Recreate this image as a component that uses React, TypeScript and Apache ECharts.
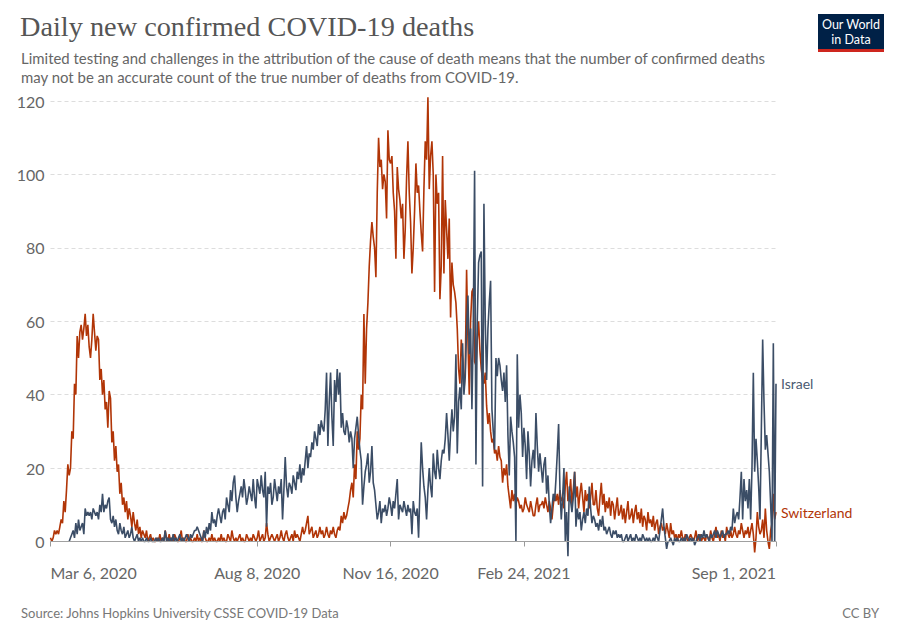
import { useEffect, useRef } from "react";
import * as echarts from "echarts";

// ---- Data ----
const switzerlandStart = "2020-03-06";
const israelStart = "2020-03-20";
const xTickDates = ["2020-03-06", "2020-08-08", "2020-11-16", "2021-02-24", "2021-09-01"];
const xTickLabels = ["Mar 6, 2020", "Aug 8, 2020", "Nov 16, 2020", "Feb 24, 2021", "Sep 1, 2021"];
const yTicks = [0, 20, 40, 60, 80, 100, 120];

const switzerland = [
  1, 0, 1, 3, 2, 3, 2, 4, 6, 5,
  11, 8, 14, 21, 18, 20, 30, 28, 43, 40,
  56, 50, 57, 59, 55, 58, 62, 56, 59, 53,
  50, 55, 62, 57, 52, 56, 55, 44, 47, 40,
  44, 36, 38, 31, 41, 39, 27, 30, 22, 26,
  19, 21, 13, 16, 10, 12, 8, 11, 6, 9,
  7, 4, 8, 5, 3, 6, 2, 4, 1, 3,
  2, 1, 3, 0, 1, 2, 0, 1, 0, 0,
  1, 0, 2, 0, 1, 0, 3, 1, 0, 2,
  0, 1, 0, 2, 1, 0, 0, 1, 3, 0,
  1, 0, 0, 2, 0, 1, 0, 0, 1, 0,
  2, 0, 1, 0, 0, 3, 1, 0, 0, 1,
  0, 2, 0, 1, 0, 0, 1, 0, 2, 0,
  1, 0, 0, 2, 1, 0, 3, 1, 0, 1,
  0, 1, 2, 0, 1, 0, 0, 2, 1, 0,
  1, 0, 2, 1, 0, 1, 3, 0, 1, 2,
  0, 1, 5, 2, 0, 1, 2, 1, 0, 1,
  2, 0, 1, 3, 1, 0, 2, 3, 1, 0,
  1, 2, 0, 3, 1, 2, 1, 0, 2, 4,
  2, 3, 5, 7, 2, 3, 4, 1, 2, 3,
  1, 2, 4, 2, 3, 1, 2, 4, 2, 1,
  3, 2, 4, 2, 1, 3, 4, 3, 7, 5,
  8, 6, 7, 9, 11, 14, 16, 12, 21, 17,
  30, 25, 28, 40, 36, 62, 43, 58, 65, 75,
  82, 87, 83, 80, 72, 95, 110, 102, 104, 96,
  100, 98, 88, 112, 104, 103, 105, 95, 90, 77,
  102, 96, 93, 88, 92, 77, 85, 99, 109, 95,
  87, 73, 80, 90, 103, 95, 97, 90, 84, 79,
  96, 109, 104, 121, 96, 105, 109, 100, 68, 100,
  92, 95, 66, 75, 105, 73, 93, 85, 77, 88,
  61, 76, 70, 68, 65, 58, 47, 43, 55, 50,
  41, 47, 74, 55, 40, 60, 68, 69, 49, 48,
  55, 60, 52, 47, 44, 43, 46, 37, 32, 35,
  30, 27, 28, 24, 25, 22, 26, 23, 22, 16,
  20, 18, 21, 15, 12, 9, 14, 11, 13, 10,
  12, 11, 9, 10, 8, 9, 12, 10, 9, 8,
  11, 9, 7, 7, 10, 12, 8, 10, 10, 11,
  9, 12, 10, 8, 11, 9, 6, 10, 13, 11,
  13, 10, 14, 11, 12, 9, 15, 19, 11, 13,
  17, 10, 14, 19, 12, 15, 9, 13, 16, 12,
  8, 14, 11, 13, 9, 12, 16, 10, 10, 14,
  9, 7, 12, 16, 10, 13, 8, 11, 9, 12,
  7, 11, 10, 6, 9, 12, 7, 8, 10, 6,
  9, 5, 8, 11, 6, 7, 9, 5, 8, 10,
  6, 8, 5, 9, 4, 7, 6, 3, 8, 5,
  6, 4, 7, 3, 5, 6, 2, 4, 5, 3,
  4, 2, 5, 3, 1, 5, 2, 3, 1, 2,
  0, 2, 1, 3, 1, 0, 2, 1, 0, 1,
  2, 1, 0, 1, 3, 0, 1, 2, 0, 1,
  1, 0, 2, 1, 0, 3, 1, 0, 2, 4,
  1, 2, 0, 3, 1, 2, 0, 4, 2, 1,
  3, 1, 2, 4, 2, 1, 3, 2, 5, 3,
  1, 3, 2, 4, 1, 3, 5, 2, -3, 1,
  8, 4, 2, 3, 6, 1, 9, 3, 0, -2,
  3, 5, 13, 6, 8,
];

const israel = [
  0, 1, 2, 3, 1, 5,
  2, 6, 3, 4, 5, 2, 9, 7, 8, 7,
  8, 6, 9, 8, 7, 8, 6, 10, 8, 13,
  8, 10, 9, 11, 12, 6, 5, 7, 4, 6,
  3, 2, 5, 3, 2, 4, 1, 2, 3, 1,
  2, 4, 1, 0, 1, 2, 0, 1, 0, 1,
  0, 0, 1, 0, 0, 1, 0, 0, 0, 1,
  0, 1, 0, 0, 1, 0, 3, 0, 1, 0,
  1, 0, 2, 0, 1, 0, 1, 2, 0, 1,
  0, 1, 2, 1, 0, 2, 1, 2, 3, 3,
  4, 3, 2, 1, 0, 3, 1, 4, 2, 5,
  3, 8, 5, 6, 4, 7, 9, 7, 5, 8,
  9, 6, 12, 10, 8, 14, 11, 16, 18, 12,
  8, 11, 13, 15, 12, 17, 14, 10, 12, 15,
  13, 11, 17, 12, 9, 17, 15, 13, 18, 14,
  12, 19, 4, 15, 13, 16, 10, 12, 17, 14,
  11, 15, 13, 17, 6, 14, 23, 15, 12, 16,
  15, 13, 18, 16, 14, 19, 17, 21, 16, 20,
  18, 22, 26, 20, 24, 23, 27, 25, 30, 28,
  26, 32, 29, 33, 31, 30, 36, 46, 26, 38,
  46, 34, 26, 44, 38, 47, 40, 46, 31, 35,
  30, 29, 33, 31, 27, 30, 28, 20, 28, 31,
  34, 29, 25, 22, 10, 15, 19, 21, 24, 16,
  19, 26, 16, 14, 10, 6, 8, 11, 5, 9,
  8, 10, 7, 9, 12, 10, 7, 11, 9, 13,
  17, 6, 10, 9, 8, 11, 9, 7, 10, 8,
  9, 2, 11, 8, 7, 9, 1, 14, 27, 20,
  15, 12, 6, 14, 20, 15, 12, 24, 19, 17,
  25, 20, 17, 22, 25, 24, 28, 35, 29, 22,
  30, 36, 30, 34, 51, 24, 38, 42, 36, 54,
  40, 45, 58, 67, 51, 58, 36, 58, 101, 21,
  60, 76, 78, 79, 15, 92, 60, 44, 58, 65,
  71, 36, 30, 25, 50, 45, 50, 48, 44, 41,
  46, 38, 48, 29, 18, 34, 30, 27, 23, 0,
  51, 31, 40, 35, 23, 31, 26, 17, 30, 24,
  15, 22, 25, 20, 35, 26, 19, 24, 20, 16,
  21, 23, 13, 18, 10, 5, 9, 13, 11, 17,
  24, 32, 14, 6, 12, 20, 0, 8, -4, 15,
  11, 8, 12, 19, 4, 9, 6, 8, 3, 6,
  8, 5, 9, 7, 15, 9, 5, 7, 6, 4,
  5, 3, 6, 4, 7, 3, 4, 2, 3, 4,
  2, 1, 3, 2, 3, 1, 2, 1, 2, 0,
  0, 1, 2, 0, 1, 2, 0, 1, 0, 2,
  1, 0, 1, 0, 2, 1, 0, 1, 0, 1,
  0, 0, 1, 0, 2, 1, 0, 3, 6, 9,
  4, 1, -2, 0, 0, 1, 0, -1, 1, 0,
  1, 0, 0, 1, 0, 1, 0, 2, 1, 0,
  1, 0, 1, -1, 0, 1, 2, 0, 2, 1,
  3, 1, 2, 1, 0, 2, 1, 2, 3, 1,
  3, 2, 1, 2, 3, 1, 2, 2, 3, 2,
  4, 3, 9, 5, 7, 8, 6, 12, 19, 6,
  17, 11, 14, 9, 17, 6, 20, 46, 19, 28,
  22, 15, 6, 30, 55, 38, 25, 29, 24, 19,
  10, 0, 54, 0, 43,
];

const DAY = 86400000;
function ts(s: string): number {
  const [y, m, d] = s.split("-").map(Number);
  return Date.UTC(y, m - 1, d);
}
function toPairs(start: string, values: number[]) {
  const t0 = ts(start);
  return values.map((v, i) => [t0 + i * DAY, v]);
}

const ISRAEL_COLOR = "#3b4d66";
const SWISS_COLOR = "#b13507";
const FONT = "Lato, 'Noto Sans', sans-serif";

export default function App() {
  const ref = useRef<HTMLDivElement>(null);
  useEffect(() => {
    if (!ref.current) return;
    const chart = echarts.init(ref.current, undefined, { renderer: "svg" });
    const tickTs = xTickDates.map(ts);
    chart.setOption({
      animation: false,
      backgroundColor: "#ffffff",
      textStyle: { fontFamily: FONT },
      title: [
        {
          text: "Daily new confirmed COVID-19 deaths",
          left: 15,
          top: 7,
          textStyle: {
            fontFamily: "'Liberation Serif', 'DejaVu Serif', serif",
            fontSize: 28.3,
            fontWeight: "normal",
            color: "#555555",
          },
        },
        {
          text:
            "Limited testing and challenges in the attribution of the cause of death means that the number of confirmed deaths\nmay not be an accurate count of the true number of deaths from COVID-19.",
          left: 16,
          top: 43,
          textStyle: {
            fontFamily: FONT,
            fontSize: 14.95,
            fontWeight: "normal",
            color: "#666666",
            lineHeight: 19,
          },
        },
        {
          text: "Source: Johns Hopkins University CSSE COVID-19 Data",
          left: 16,
          top: 601,
          textStyle: { fontFamily: FONT, fontSize: 13, fontWeight: "normal", color: "#777777" },
        },
        {
          text: "CC BY",
          right: 16,
          top: 601,
          textStyle: { fontFamily: FONT, fontSize: 13, fontWeight: "normal", color: "#777777" },
        },
      ],
      graphic: [
        { type: "rect", x: 818, y: 14, shape: { width: 66, height: 38 }, style: { fill: "#002147" } },
        { type: "rect", x: 818, y: 49, shape: { width: 66, height: 3 }, style: { fill: "#ce261e" } },
        {
          type: "text",
          x: 851,
          y: 17,
          style: {
            text: "Our World\nin Data",
            fill: "#ffffff",
            font: `12.5px ${FONT}`,
            align: "center",
            verticalAlign: "top",
            lineHeight: 15,
          },
        },
      ],
      grid: { left: 50.5, right: 124, top: 101, bottom: 93.5, containLabel: false },
      xAxis: {
        type: "value",
        min: ts(switzerlandStart),
        max: ts(xTickDates[xTickDates.length - 1]),
        offset: 14,
        axisLine: { show: false },
        splitLine: { show: false },
        axisTick: {
          show: true,
          customValues: tickTs,
          length: 5,
          lineStyle: { color: "#999999" },
        },
        axisLabel: {
          customValues: tickTs,
          fontFamily: FONT,
          fontSize: 16,
          color: "#666666",
          margin: 9,
          alignMinLabel: "left",
          alignMaxLabel: "right",
          formatter: (v: number) => {
            const i = tickTs.findIndex((t) => Math.abs(t - v) < DAY / 2);
            return i >= 0 ? xTickLabels[i] : "";
          },
        },
      },
      yAxis: {
        type: "value",
        min: yTicks[0],
        max: yTicks[yTicks.length - 1],
        interval: 20,
        axisLine: { show: false },
        axisTick: { show: false },
        axisLabel: { fontFamily: FONT, fontSize: 16, color: "#666666", margin: 6 },
        splitLine: { lineStyle: { color: "#dddddd", type: [4, 3], width: 1 } },
      },
      series: [
        {
          name: "Switzerland",
          type: "line",
          data: toPairs(switzerlandStart, switzerland),
          showSymbol: false,
          clip: false,
          lineStyle: { color: SWISS_COLOR, width: 1.6 },
          itemStyle: { color: SWISS_COLOR },
          endLabel: {
            show: true,
            formatter: "{a}",
            color: SWISS_COLOR,
            fontFamily: FONT,
            fontSize: 14,
            distance: 5,
          },
          markLine: {
            silent: true,
            symbol: "none",
            label: { show: false },
            lineStyle: { color: "#a0a0a0", type: "solid", width: 1 },
            data: [{ yAxis: 0 }],
          },
          z: 3,
        },
        {
          name: "Israel",
          type: "line",
          data: toPairs(israelStart, israel),
          showSymbol: false,
          clip: false,
          lineStyle: { color: ISRAEL_COLOR, width: 1.6 },
          itemStyle: { color: ISRAEL_COLOR },
          endLabel: {
            show: true,
            formatter: "{a}",
            color: "#4a5a72",
            fontFamily: FONT,
            fontSize: 14,
            distance: 5,
          },
          z: 4,
        },
      ],
    });
    return () => chart.dispose();
  }, []);
  return (
    <div
      ref={ref}
      style={{ position: "fixed", left: 0, top: 0, width: 900, height: 635, background: "#fff" }}
    />
  );
}
